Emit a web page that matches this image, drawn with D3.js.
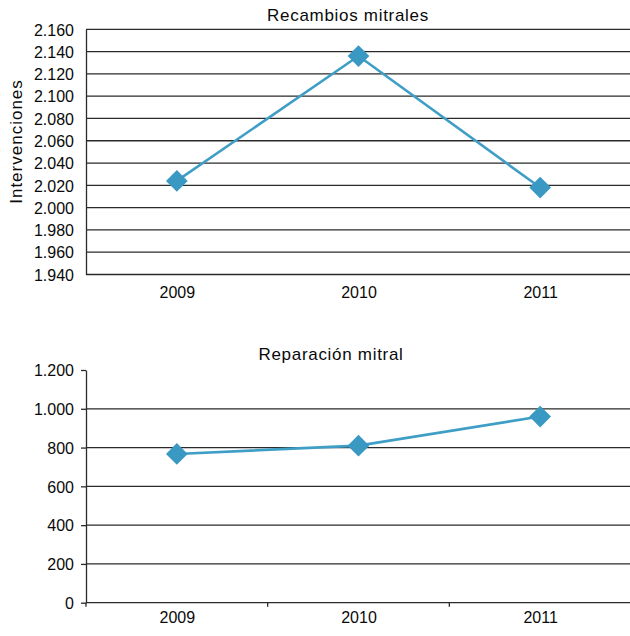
<!DOCTYPE html>
<html>
<head>
<meta charset="utf-8">
<script src="https://cdn.jsdelivr.net/npm/d3@7"></script>
<style>
  html, body { margin: 0; padding: 0; background: #fff; }
  svg { display: block; font-family: "Liberation Sans", Arial, sans-serif; }
</style>
</head>
<body>
<svg id="chart" width="630" height="636"></svg>
<script>
// Años
const years = ["2009", "2010", "2011"];

// Recambios mitrales (intervenciones por año)
const recambios = [2024, 2136, 2018];
const recambiosTicks = [1940, 1960, 1980, 2000, 2020, 2040, 2060, 2080, 2100, 2120, 2140, 2160];

// Reparación mitral (intervenciones por año)
const reparacion = [767, 810, 960];
const reparacionTicks = [0, 200, 400, 600, 800, 1000, 1200];

const titles = ["Recambios mitrales", "Reparación mitral"];
const yLabel = "Intervenciones";

const lineColor = "#3f9ec6";
const markerColor = "#3a99c2";
const gridColor = "#2a2a2a";
const textColor = "#0a0a0a";

const es = d3.formatLocale({ decimal: ",", thousands: ".", grouping: [3], currency: ["", " €"] });
const fmt = es.format(",d");

const svg = d3.select("#chart");
const diamond = d3.symbol().type(d3.symbolDiamond2 || d3.symbolSquare2).size(300);

const x = d3.scalePoint().domain(years).range([86, 631]).padding(0.5);

function panel(opts) {
  const g = svg.append("g");
  const y = d3.scaleLinear().domain(opts.domain).range(opts.range);

  // horizontal gridlines
  g.append("g").selectAll("line")
    .data(opts.ticks.filter(opts.gridFilter))
    .join("line")
    .attr("x1", 86).attr("x2", 632)
    .attr("y1", d => y(d)).attr("y2", d => y(d))
    .attr("stroke", gridColor).attr("stroke-width", 1.3);

  // left axis with labels
  const yAxis = d3.axisLeft(y).tickValues(opts.ticks).tickFormat(fmt)
    .tickSizeInner(opts.yTick).tickSizeOuter(0).tickPadding(opts.yPad);
  const ya = g.append("g").attr("transform", "translate(86,0)").call(yAxis);
  ya.select(".domain").attr("stroke", gridColor).attr("stroke-width", 1.3);
  ya.selectAll(".tick line").attr("stroke", gridColor).attr("stroke-width", 1.3);
  ya.selectAll("text").attr("fill", textColor).attr("font-size", "16px").attr("dy", "0.36em");

  // bottom axis
  const xAxis = d3.axisBottom(x).tickSize(0).tickPadding(opts.xPad);
  const xa = g.append("g").attr("transform", `translate(0,${y(opts.domain[0])})`).call(xAxis);
  xa.select(".domain").remove();
  xa.selectAll("text").attr("fill", textColor).attr("font-size", "16px");

  if (opts.xTicks) {
    const edges = d3.range(4).map(i => 86 + i * x.step());
    g.append("g").selectAll("line").data(edges).join("line")
      .attr("x1", d => d).attr("x2", d => d)
      .attr("y1", y(opts.domain[0])).attr("y2", y(opts.domain[0]) + 4)
      .attr("stroke", gridColor).attr("stroke-width", 1.3);
  }

  // series line
  const line = d3.line().x((d, i) => x(years[i])).y(d => y(d));
  g.append("path").datum(opts.values)
    .attr("d", line).attr("fill", "none")
    .attr("stroke", lineColor).attr("stroke-width", 2.6);

  // diamond markers
  g.append("g").selectAll("path").data(opts.values).join("path")
    .attr("transform", (d, i) => `translate(${x(years[i])},${y(d)})`)
    .attr("d", diamond)
    .attr("fill", markerColor);

  // title
  g.append("text")
    .attr("x", opts.titleX).attr("y", opts.titleY)
    .attr("text-anchor", "middle")
    .attr("font-size", "17px").attr("letter-spacing", "0.7px")
    .attr("fill", textColor)
    .text(opts.title);
}

panel({
  domain: [1940, 2160], range: [274.5, 29.3],
  ticks: recambiosTicks, gridFilter: () => true,
  values: recambios, yTick: 0, yPad: 12, xPad: 23.5 - 11.5,
  title: titles[0], titleX: 348, titleY: 20.5, xTicks: false
});

panel({
  domain: [0, 1200], range: [602.7, 370],
  ticks: reparacionTicks, gridFilter: d => d !== 1200,
  values: reparacion, yTick: 5, yPad: 7, xPad: 20.3 - 11.5,
  title: titles[1], titleX: 331, titleY: 360, xTicks: true
});

// shared vertical axis title
svg.append("text")
  .attr("transform", "translate(21.5,141.5) rotate(-90)")
  .attr("text-anchor", "middle")
  .attr("font-size", "17px").attr("letter-spacing", "1px")
  .attr("fill", textColor)
  .text(yLabel);
</script>
</body>
</html>
